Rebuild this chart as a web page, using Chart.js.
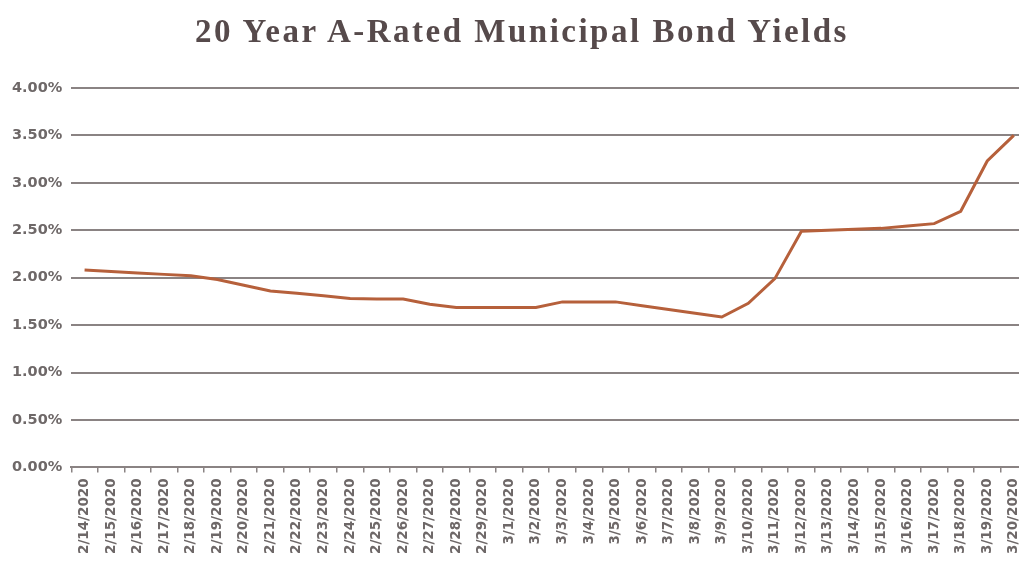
<!DOCTYPE html>
<html>
<head>
<meta charset="utf-8">
<script src="https://cdn.jsdelivr.net/npm/chart.js@4.4.1/dist/chart.umd.min.js"></script>
<style>
  html, body { margin: 0; padding: 0; background: #fff; overflow: hidden; }
  #wrap { position: relative; width: 1019px; height: 563px; overflow: hidden; }
  #title {
    position: absolute; left: 0; top: 13px; width: 1044px; text-align: center;
    font-family: "Liberation Serif", "DejaVu Serif", serif;
    font-size: 33px; font-weight: bold; letter-spacing: 2.5px; color: #564a4b;
  }
</style>
</head>
<body>
<div id="wrap">
  <div id="title">20 Year A-Rated Municipal Bond Yields</div>
  <canvas id="yieldChart" width="1036" height="563"></canvas>
</div>
<script>
/* DATA */
const dates = [
  "2/14/2020", "2/15/2020", "2/16/2020", "2/17/2020", "2/18/2020", "2/19/2020",
  "2/20/2020", "2/21/2020", "2/22/2020", "2/23/2020", "2/24/2020", "2/25/2020",
  "2/26/2020", "2/27/2020", "2/28/2020", "2/29/2020", "3/1/2020", "3/2/2020",
  "3/3/2020", "3/4/2020", "3/5/2020", "3/6/2020", "3/7/2020", "3/8/2020",
  "3/9/2020", "3/10/2020", "3/11/2020", "3/12/2020", "3/13/2020", "3/14/2020",
  "3/15/2020", "3/16/2020", "3/17/2020", "3/18/2020", "3/19/2020", "3/20/2020"
];
const yields = [
  2.08, 2.065, 2.05, 2.035, 2.02, 1.98,
  1.92, 1.86, 1.835, 1.81, 1.78, 1.775,
  1.775, 1.72, 1.685, 1.685, 1.685, 1.685,
  1.745, 1.745, 1.745, 1.705, 1.665, 1.625,
  1.585, 1.73, 1.99, 2.49, 2.50, 2.51,
  2.52, 2.545, 2.57, 2.70, 3.23, 3.50
];
const yTicks = [0, 0.5, 1, 1.5, 2, 2.5, 3, 3.5, 4];

/* STYLE */
const lineColor = "#b6603b";
const gridColor = "#8a8383";
const textColor = "#6e6868";

new Chart(document.getElementById("yieldChart").getContext("2d"), {
  type: "line",
  data: {
    labels: dates,
    datasets: [{
      data: yields,
      borderColor: lineColor,
      borderWidth: 3,
      pointRadius: 0,
      tension: 0,
      fill: false
    }]
  },
  options: {
    responsive: false,
    animation: false,
    layout: { padding: { top: 88, right: 0, left: 3, bottom: 3 } },
    plugins: {
      legend: { display: false },
      tooltip: { enabled: false }
    },
    scales: {
      x: {
        offset: true,
        grid: {
          offset: true,
          drawOnChartArea: false,
          drawTicks: true,
          tickLength: 5,
          color: gridColor,
          lineWidth: 1.5
        },
        border: { display: true, color: gridColor, width: 2 },
        ticks: {
          autoSkip: false,
          maxRotation: 90,
          minRotation: 90,
          padding: 6,
          color: textColor,
          font: { family: "DejaVu Sans", size: 13.5, weight: "bold" }
        }
      },
      y: {
        min: 0,
        max: 4,
        afterBuildTicks: axis => { axis.ticks = yTicks.map(v => ({ value: v })); },
        grid: { color: gridColor, lineWidth: 2, drawTicks: false },
        border: { display: false },
        ticks: {
          padding: 9,
          color: textColor,
          font: { family: "DejaVu Sans", size: 14.5, weight: "bold" },
          callback: v => v.toFixed(2) + "%"
        }
      }
    }
  }
});
</script>
</body>
</html>
